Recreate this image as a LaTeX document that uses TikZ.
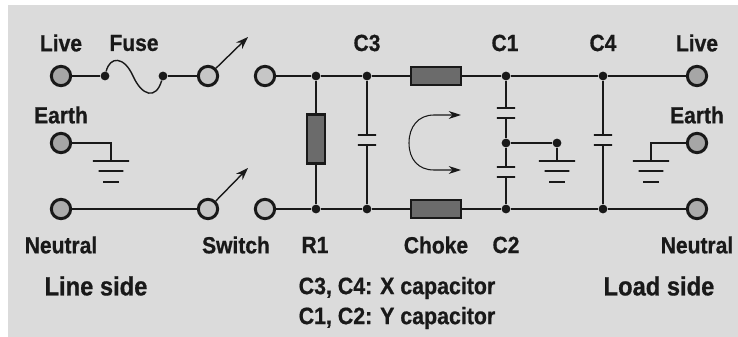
\documentclass[tikz,border=0pt]{standalone}
\usepackage{fontspec}
\setmainfont[FakeStretch=0.9, BoldFeatures={FakeBold=0.7}]{Liberation Sans}
\usetikzlibrary{arrows.meta}
\definecolor{panel}{gray}{0.86}
\definecolor{ink}{gray}{0.1}
\tikzset{
    wire/.style={ink, line width=1.5pt},
    thinwire/.style={ink, line width=0.8pt},
    term/.style={circle, draw=ink, line width=1.7pt, minimum size=11pt, inner sep=0pt},
    dot/.style={circle, fill=ink, minimum size=5pt, inner sep=0pt},
    block/.style={rectangle, draw=ink, line width=1.3pt, fill=gray!55!black!80, inner sep=0pt},
    plate/.style={draw=ink, line width=1.3pt, rectangle, minimum width=#1, minimum height=0pt, inner sep=0pt},
    plate/.default=10.5pt,
    tag/.style={font=\bfseries\fontsize{13.3}{15}\selectfont, text=ink, inner sep=0pt},
    bigtag/.style={font=\bfseries\fontsize{15}{17}\selectfont, text=ink, inner sep=0pt},
    notetag/.style={font=\bfseries\fontsize{13.5}{16}\selectfont, text=ink, inner sep=0pt}
}
\begin{document}
\begin{tikzpicture}[x=0.2mm, y=-0.2mm]
    \useasboundingbox (0, 0) rectangle (738, 337);
    \fill[white] (0, 0) rectangle (738, 337);
    \fill[panel] (8, 5) rectangle (738, 337);

    \node[term, fill=gray!70] (liveL) at (61, 76) {};
    \node[term, fill=gray!70] (earthL) at (61, 143) {};
    \node[term, fill=gray!65] (neutralL) at (61, 209) {};
    \node[term, fill=gray!45] (swTa) at (208, 76) {};
    \node[term, fill=gray!45] (swTb) at (265, 76) {};
    \node[term, fill=gray!45] (swBa) at (208, 209) {};
    \node[term, fill=gray!45] (swBb) at (265, 209) {};
    \node[term, fill=gray!70] (liveR) at (697, 76) {};
    \node[term, fill=gray!70] (earthR) at (697, 143) {};
    \node[term, fill=gray!65] (neutralR) at (697, 209) {};

    \node[dot] (fuseA) at (105, 76) {};
    \node[dot] (fuseB) at (163, 76) {};
    \foreach \n/\x in {R/316, X/367, Y/506, Z/603} {
        \node[dot] (top\n) at (\x, 76) {};
        \node[dot] (bot\n) at (\x, 209) {};
    }
    \node[dot] (midY) at (506, 143) {};
    \node[dot] (earthM) at (557, 143) {};

    \node[block, minimum width=10.5pt, minimum height=28pt] (rOne) at (316, 139) {};
    \node[block, minimum width=28.5pt, minimum height=10.5pt] (chokeT) at (436, 76) {};
    \node[block, minimum width=28.5pt, minimum height=10.5pt] (chokeB) at (436, 209) {};

    \node[plate] (cThreeA) at (367, 135) {};
    \node[plate] (cThreeB) at (367, 145) {};
    \node[plate] (cOneA) at (506, 108) {};
    \node[plate] (cOneB) at (506, 118) {};
    \node[plate] (cTwoA) at (506, 167) {};
    \node[plate] (cTwoB) at (506, 177) {};
    \node[plate] (cFourA) at (603, 135) {};
    \node[plate] (cFourB) at (603, 145) {};

    \foreach \g/\x in {gndL/111, gndM/557, gndR/651} {
        \node[plate=20.5pt] (\g a) at (\x, 161) {};
        \node[plate=14pt, line width=1.6pt] (\g b) at (\x, 171) {};
        \node[plate=9pt, line width=1.5pt] (\g c) at (\x, 182) {};
    }
    \coordinate (earthLc) at (111, 143);
    \coordinate (earthRc) at (651, 143);
    \coordinate (armT) at (248, 37);
    \coordinate (armB) at (248, 168);
    \coordinate (arcT) at (461, 115);
    \coordinate (arcB) at (461, 170);

    \draw[wire] (liveL) -- (fuseA);
    \draw[wire] (fuseB) -- (swTa);
    \draw[thinwire] (fuseA) .. controls (110, 56) and (124, 56) .. (133, 76)
            .. controls (142, 96) and (156, 100) .. (fuseB);
    \draw[wire] (neutralL) -- (swBa);
    \draw[wire] (swTb) -- (topR) -- (topX) -- (chokeT) -- (topY) -- (topZ) -- (liveR);
    \draw[wire] (swBb) -- (botR) -- (botX) -- (chokeB) -- (botY) -- (botZ) -- (neutralR);
    \draw[thinwire, -{Stealth[length=7pt, width=5pt]}] (swTa) -- (armT);
    \draw[thinwire, -{Stealth[length=7pt, width=5pt]}] (swBa) -- (armB);

    \draw[wire] (earthL) -- (earthLc) -- (gndLa);
    \draw[wire] (earthR) -- (earthRc) -- (gndRa);
    \draw[wire] (midY) -- (earthM);
    \draw[wire] (earthM) -- (gndMa);

    \draw[wire] (topR) -- (rOne);
    \draw[wire] (rOne) -- (botR);
    \draw[wire] (topX) -- (cThreeA);
    \draw[wire] (cThreeB) -- (botX);
    \draw[wire] (topY) -- (cOneA);
    \draw[wire] (cOneB) -- (midY);
    \draw[wire] (midY) -- (cTwoA);
    \draw[wire] (cTwoB) -- (botY);
    \draw[wire] (topZ) -- (cFourA);
    \draw[wire] (cFourB) -- (botZ);

    \draw[thinwire, line width=0.6pt, {Stealth[length=7pt, width=4.5pt]}-{Stealth[length=7pt, width=4.5pt]}]
            (arcT) -- (434, 115) .. controls (418, 115) and (409, 127) .. (409, 143)
            .. controls (409, 159) and (418, 170) .. (434, 170) -- (arcB);

    \node[tag] (lblLiveL) at (61, 43) {Live};
    \node[tag] (lblFuse) at (134, 43) {Fuse};
    \node[tag] (lblEarthL) at (61, 115) {Earth};
    \node[tag] (lblNeutralL) at (61, 245) {Neutral};
    \node[tag] (lblSwitch) at (236, 245) {Switch};
    \node[tag] (lblR) at (315, 245) {R1};
    \node[tag] (lblCThree) at (367, 43) {C3};
    \node[tag] (lblCOne) at (505, 43) {C1};
    \node[tag] (lblCFour) at (603, 43) {C4};
    \node[tag] (lblLiveR) at (697, 43) {Live};
    \node[tag] (lblEarthR) at (697, 115) {Earth};
    \node[tag] (lblNeutralR) at (697, 245) {Neutral};
    \node[tag] (lblChoke) at (436, 245) {Choke};
    \node[tag] (lblCTwo) at (506, 245) {C2};
    \node[bigtag] (lblLine) at (96, 286) {Line side};
    \node[bigtag] (lblLoad) at (659, 286) {Load side};
    \node[notetag] (lblX) at (397, 288) {C3, C4: X capacitor};
    \node[notetag] (lblY) at (397, 318) {C1, C2: Y capacitor};
\end{tikzpicture}
\end{document}
